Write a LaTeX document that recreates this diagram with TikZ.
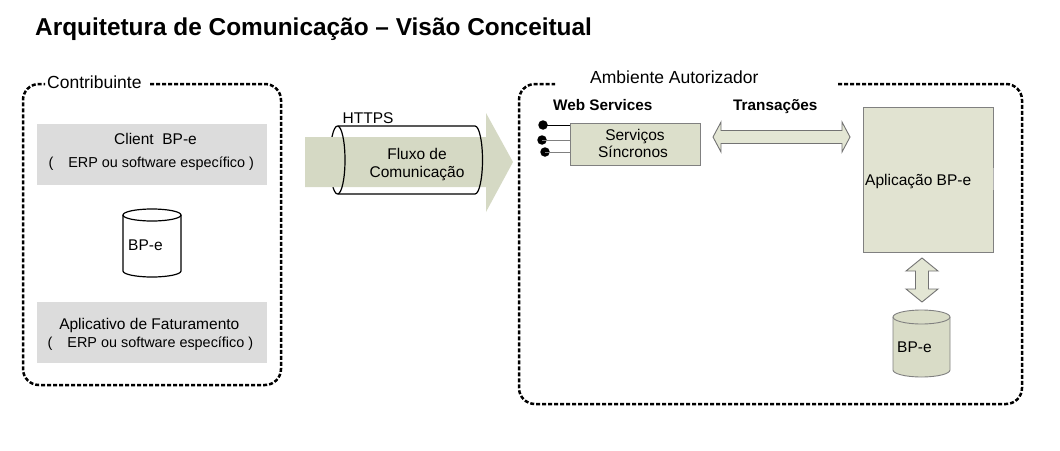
\documentclass[tikz,border=0pt]{standalone}
\usepackage{fontspec}
\setmainfont{Liberation Sans}
\definecolor{flowgreen}{HTML}{D5D9C4}
\definecolor{boxgreen}{HTML}{DCDFCB}
\definecolor{appgreen}{HTML}{E1E3D1}
\definecolor{cylgreen}{HTML}{D9DCC7}
\definecolor{arrgreen}{HTML}{E3E6D4}
\definecolor{graybox}{HTML}{DCDCDC}
\definecolor{edgegray}{HTML}{808080}
\tikzset{
  container/.style={line width=2.5pt, dash pattern=on 4pt off 2pt, rounded corners=16pt},
  txt/.style={inner sep=0pt, font=\fontsize{15.5}{18}\selectfont},
  smalltxt/.style={inner sep=0pt, font=\fontsize{14.4}{17}\selectfont},
  lbl/.style={inner sep=0pt, font=\fontsize{17.5}{20}\selectfont},
  boldtxt/.style={inner sep=0pt, font=\bfseries\fontsize{15.3}{18}\selectfont},
  greybox/.style={fill=graybox, inner sep=0pt, minimum width=230pt, minimum height=61pt},
  dblarrow/.style={draw=edgegray!90!black, fill=arrgreen, line width=0.9pt, line join=miter},
  dotnode/.style={circle, fill=black, inner sep=0pt, minimum size=9.5pt},
}
\begin{document}
\begin{tikzpicture}[x=1pt,y=1pt]
\useasboundingbox (0,0) rectangle (1060,-450);

% title
\node[anchor=base west, inner sep=0pt, font=\bfseries\fontsize{24.4}{28}\selectfont] (title) at (35,-35) {Arquitetura de Comunicação – Visão Conceitual};

% ---------- Contribuinte ----------
\draw[container] (150,-84) -- (281,-84) -- (281,-385) -- (23,-385) -- (23,-84) -- (45,-84);
\node[anchor=base west, lbl] (contrib) at (47,-88) {Contribuinte};

\node[greybox] (client) at (152,-154.5) {};
\node[anchor=base, txt] (clienttxt) at (155.5,-144) {Client\ \ BP-e};
\node[anchor=base west, smalltxt] (erp1) at (48.3,-167) {(\hspace{15pt}ERP ou software específico )};

% left database
\draw[line width=1.2pt, fill=white] (123,-215) -- (123,-271) arc[start angle=180,end angle=360,x radius=29,y radius=6] -- (181,-215) arc[start angle=0,end angle=180,x radius=29,y radius=6] -- cycle;
\draw[line width=1.2pt] (123,-215) arc[start angle=180,end angle=360,x radius=29,y radius=6];
\node[anchor=base west, txt] (dbleft) at (128,-250) {BP-e};

\node[greybox] (fat) at (152,-332.5) {};
\node[anchor=base, txt] (fattxt) at (149.3,-329) {Aplicativo de Faturamento};
\node[anchor=base west, smalltxt] (erp2) at (47.5,-347) {(\hspace{15pt}ERP ou software específico )};

% ---------- HTTPS flow ----------
\draw[line width=1.2pt] (337.5,-126) arc[start angle=90,end angle=270,x radius=7.5,y radius=34];
\fill[flowgreen] (305,-137) -- (486,-137) -- (486,-113) -- (513,-162) -- (486,-212) -- (486,-187) -- (305,-187) -- cycle;
\draw[line width=1.2pt] (337.5,-126) arc[start angle=90,end angle=-90,x radius=7.5,y radius=34];
\draw[line width=1.2pt] (337.5,-126) -- (475,-126) arc[start angle=90,end angle=-90,x radius=7.5,y radius=34] -- (337.5,-194);
\node[anchor=base west, txt] (https) at (342.5,-123) {HTTPS};
\node[anchor=base, txt] (fluxo1) at (417,-159) {Fluxo de};
\node[anchor=base, txt] (fluxo2) at (417,-177) {Comunicação};

% ---------- Ambiente Autorizador ----------
\draw[container] (838,-84) -- (1022,-84) -- (1022,-404) -- (519,-404) -- (519,-84) -- (555,-84);
\node[anchor=base west, lbl] (amb) at (590,-83) {Ambiente Autorizador};

\node[anchor=base west, boldtxt] (ws) at (553,-110) {Web Services};
\node[anchor=base west, boldtxt] (trans) at (733,-110) {Transações};

\node[draw=edgegray, fill=boxgreen, line width=0.8pt, inner sep=0pt, minimum width=130pt, minimum height=42pt] (sync) at (635,-144) {};
\node[anchor=base, txt] (synct1) at (635,-140) {Serviços};
\node[anchor=base, txt] (synct2) at (633,-157) {Síncronos};

\node[dotnode] (d1) at (543,-125) {};
\node[dotnode] (d2) at (542,-140) {};
\node[dotnode] (d3) at (545,-152) {};
\draw[line width=1pt] (d1.center) -- (d1.center -| sync.west);
\draw[line width=1pt, gray] (d2.center) -- (d2.center -| sync.west);
\draw[line width=1pt, gray] (d3.center) -- (d3.center -| sync.west);

% Transações double arrow
\draw[dblarrow] (713,-137) -- (721,-122) -- (721,-130.5) -- (842,-130.5) -- (842,-122) -- (850,-137) -- (842,-152) -- (842,-143.5) -- (721,-143.5) -- (721,-152) -- cycle;

% Aplicação
\node[draw=edgegray, fill=appgreen, line width=0.8pt, inner sep=0pt, minimum width=130pt, minimum height=145pt] (app) at (928,-179.5) {};
\draw[line width=1.5pt, gray!60] (app.east |- 0,-168) -- (app.east |- 0,-190);
\node[anchor=base west, txt] (apptxt) at (865,-185) {Aplicação BP-e};

% vertical double arrow
\draw[dblarrow] (922,-258) -- (938,-271) -- (928.5,-271) -- (928.5,-289) -- (938,-289) -- (922,-302) -- (906,-289) -- (915.5,-289) -- (915.5,-271) -- (906,-271) -- cycle;

% right database
\draw[line width=0.9pt, draw=edgegray, fill=cylgreen] (893,-317) -- (893,-370) arc[start angle=180,end angle=360,x radius=28.5,y radius=7] -- (950,-317) arc[start angle=0,end angle=180,x radius=28.5,y radius=7] -- cycle;
\draw[line width=0.9pt, draw=edgegray] (893,-317) arc[start angle=180,end angle=360,x radius=28.5,y radius=7];
\node[anchor=base west, txt] (dbright) at (897,-352) {BP-e};
\end{tikzpicture}
\end{document}
